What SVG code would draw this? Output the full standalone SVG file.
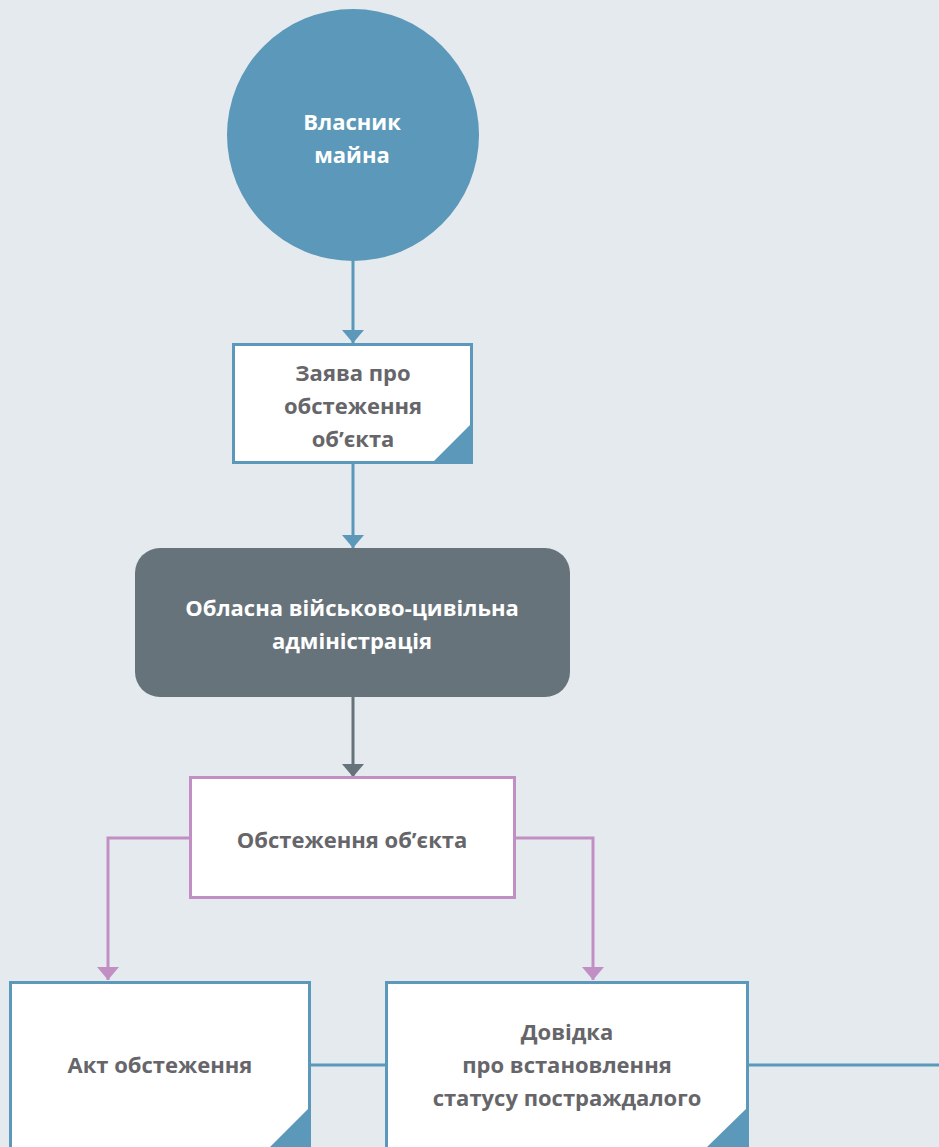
<svg xmlns="http://www.w3.org/2000/svg" width="939" height="1147" viewBox="0 0 939 1147">
<style>
.t{font-family:"Open Sans","Liberation Sans",sans-serif;font-weight:bold;font-size:22px;text-anchor:middle}
.g{fill:#66666a}
.w{fill:#ffffff}
.doc{fill:#ffffff;stroke:#5b98b9;stroke-width:3}
.blue{stroke:#5b98b9;stroke-width:3;fill:none}
.purp{stroke:#c18fc4;stroke-width:3;fill:none}
.dark{stroke:#67737b;stroke-width:3;fill:none}
</style>
<rect width="939" height="1147" fill="#e5eaef"/>
<g id="connectors">
<path class="blue" d="M353,261 V343"/>
<path d="M342,330 L364,330 L353,343 Z" fill="#5b98b9"/>
<path class="blue" d="M353,463 V548"/>
<path d="M342,535 L364,535 L353,548 Z" fill="#5b98b9"/>
<path class="dark" d="M353,697 V777"/>
<path d="M342,764 L364,764 L353,777 Z" fill="#67737b"/>
<path class="purp" d="M189,838 H108 V980"/>
<path d="M97,967 L119,967 L108,980 Z" fill="#c18fc4"/>
<path class="purp" d="M516,838 H593 V980"/>
<path d="M582,967 L604,967 L593,980 Z" fill="#c18fc4"/>
<path class="blue" d="M310,1065 H386"/>
<path class="blue" d="M748,1065 H939"/>
</g>
<g id="owner">
<circle cx="353" cy="135" r="126" fill="#5b98b9"/>
<text class="t w" x="352" y="130">Власник</text>
<text class="t w" x="352" y="163">майна</text>
</g>
<g id="application">
<rect class="doc" x="233.5" y="344.5" width="238" height="118"/>
<path d="M473,422 L473,464 L431,464 Z" fill="#5b98b9"/>
<text class="t g" x="353" y="381">Заява про</text>
<text class="t g" x="353" y="414">обстеження</text>
<text class="t g" x="353" y="447">об’єкта</text>
</g>
<g id="admin">
<rect x="135" y="548" width="435" height="149" rx="25" fill="#67737b"/>
<text class="t w" x="352" y="616">Обласна військово-цивільна</text>
<text class="t w" x="352" y="649">адміністрація</text>
</g>
<g id="inspection">
<rect x="190.5" y="777.5" width="324" height="120" fill="#ffffff" stroke="#c18fc4" stroke-width="3"/>
<text class="t g" x="352" y="848">Обстеження об’єкта</text>
</g>
<g id="act">
<rect class="doc" x="10.5" y="982.5" width="299" height="170"/>
<path d="M311,1106 L311,1147 L270,1147 Z" fill="#5b98b9"/>
<text class="t g" x="160" y="1073">Акт обстеження</text>
</g>
<g id="certificate">
<rect class="doc" x="386.5" y="982.5" width="361" height="170"/>
<path d="M749,1106 L749,1147 L707,1147 Z" fill="#5b98b9"/>
<text class="t g" x="567" y="1040">Довідка</text>
<text class="t g" x="567" y="1073">про встановлення</text>
<text class="t g" x="567" y="1106">статусу постраждалого</text>
</g>
</svg>
